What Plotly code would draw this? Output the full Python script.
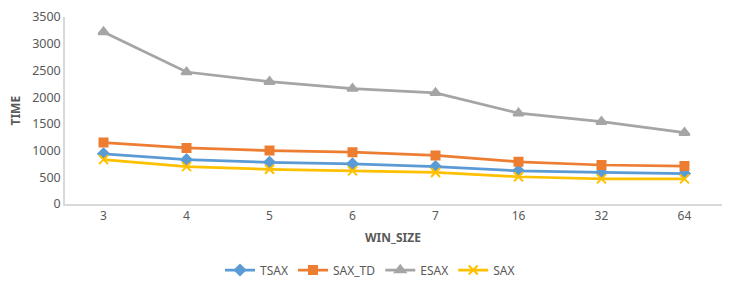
import plotly.graph_objects as go

win_size = ["3", "4", "5", "6", "7", "16", "32", "64"]
tsax = [940, 830, 780, 750, 700, 620, 590, 570]
sax_td = [1150, 1050, 1000, 970, 910, 790, 730, 710]
esax = [3220, 2470, 2290, 2160, 2080, 1700, 1540, 1335]
sax = [830, 700, 650, 620, 590, 510, 470, 470]

series = [
    ("TSAX", tsax, "#5B9BD5", "diamond", 8),
    ("SAX_TD", sax_td, "#ED7D31", "square", 8),
    ("ESAX", esax, "#A5A5A5", "triangle-up", 9),
    ("SAX", sax, "#FFC000", "x-thin", 9),
]

fig = go.Figure()
for name, vals, color, sym, size in series:
    fig.add_trace(go.Scatter(
        x=win_size, y=vals, name=name, mode="lines+markers",
        line=dict(color=color, width=2.75),
        marker=dict(symbol=sym, size=size, color=color,
                    line=dict(color=color, width=2)),
    ))

font = "Noto Sans, DejaVu Sans, sans-serif"
OFF = 8  # page offset
L, T = 65 - OFF, 17 - OFF
pw, ph = 658, 187
R, B = 730 - L - pw, 288 - T - ph

fig.update_layout(
    width=730, height=288,
    margin=dict(l=L, r=R, t=T, b=B, autoexpand=False),
    paper_bgcolor="white", plot_bgcolor="white",
    font=dict(family=font, size=12, color="#595959"),
    xaxis=dict(
        type="category", showgrid=False, showline=True, linecolor="#D9D9D9",
        linewidth=1.5, ticks="", tickfont=dict(size=12, color="#595959"),
        automargin=False,
    ),
    yaxis=dict(
        range=[0, 3500], dtick=500, showgrid=False, showline=True, linecolor="#D9D9D9",
        linewidth=1.5, zeroline=False, automargin=False,
        ticks="", tickfont=dict(size=12.5, color="#595959"),
    ),
    legend=dict(orientation="h", x=(370 - 65) / pw, xanchor="center", y=(204 - 270) / ph,
                yanchor="middle", font=dict(size=12, color="#595959"), itemwidth=30),
    annotations=[
        dict(text="<b>TIME</b>", xref="paper", yref="paper",
             x=(15 - 65) / pw, y=0.5, xanchor="center", yanchor="middle",
             textangle=-90, showarrow=False, font=dict(size=12, color="#595959")),
        dict(text="<b>WIN_SIZE</b>", xref="paper", yref="paper",
             x=(393 - 65) / pw, y=(204 - 237) / ph, xanchor="center", yanchor="middle",
             showarrow=False, font=dict(size=12, color="#595959")),
    ],
    showlegend=True,
)

fig.write_html("out.html")
